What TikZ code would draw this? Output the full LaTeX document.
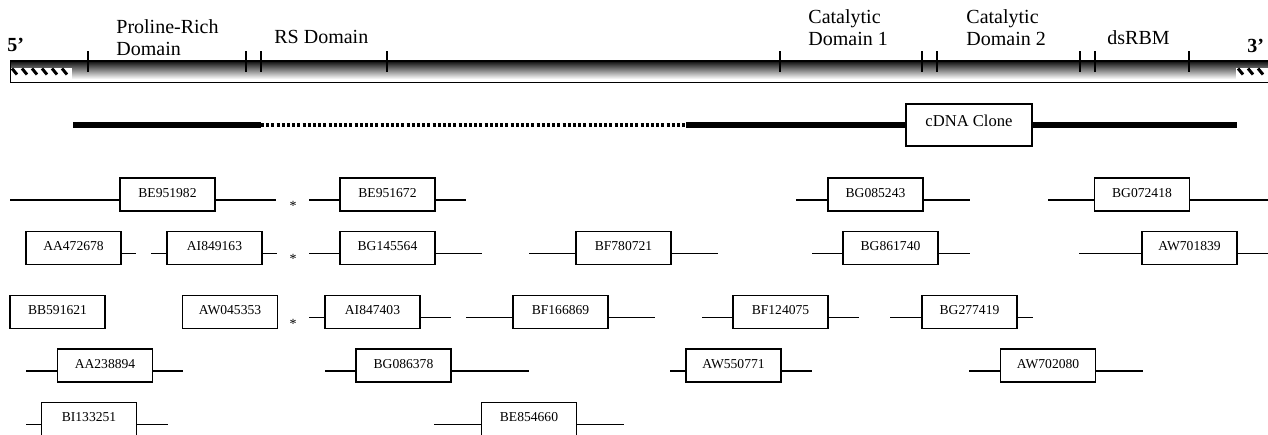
\documentclass[tikz,border=0pt]{standalone}
\usepackage{fontspec}
\setmainfont{Liberation Serif}
\newlength{\du}
\setlength{\du}{0.5pt}
\definecolor{barcolor}{rgb}{0.050000, 0.050000, 0.050000}
\definecolor{barmid}{rgb}{0.450000, 0.450000, 0.450000}
\definecolor{barlight}{rgb}{1.000000, 1.000000, 1.000000}

\begin{document}
\begin{tikzpicture}[yscale=-1,
  estbox/.style={draw, fill=white, line width=1.3\du, minimum width=95\du, minimum height=33\du,
    inner sep=0pt, text depth=2pt, font=\fontsize{6.8}{8}\selectfont},
  estline/.style={line width=1.2\du},
  cdnabox/.style={draw, fill=white, line width=1.3\du, minimum width=126\du, minimum height=42\du,
    inner sep=0pt, text depth=4pt, font=\fontsize{8.3}{10}\selectfont},
  cdnaline/.style={line width=6\du},
  cdnadots/.style={line width=3.5\du, dash pattern=on 3\du off 2.2\du},
  domtick/.style={line width=2.2\du},
  hatchline/.style={line width=3\du},
  domlabel/.style={anchor=north west, inner sep=0pt, align=left, font=\fontsize{10}{11.2}\selectfont},
  endlabel/.style={anchor=base west, inner sep=0pt, font=\fontsize{10}{12}\selectfont\bfseries},
  astnode/.style={inner sep=0pt, font=\fontsize{7}{8}\selectfont}]
\useasboundingbox (0,0) rectangle (1268\du,434\du);

% gene bar
\shade[top color=barcolor, middle color=barmid, bottom color=barlight] (10\du,61\du) rectangle (1268\du,79\du);
\fill[white] (10\du,79\du) rectangle (1268\du,82\du);
\draw[line width=1\du] (10\du,61\du) -- (10\du,82\du) -- (1268\du,82\du);
\draw[line width=2\du] (10\du,61\du) -- (1268\du,61\du);
\draw[line width=1\du] (88\du,60\du) -- (104\du,60\du);
\draw[line width=1\du] (780\du,60\du) -- (796\du,60\du);
\draw[line width=1\du] (937\du,60\du) -- (951\du,60\du);

% untranslated ends
\fill[white] (10.5\du,68\du) rectangle (72\du,81.5\du);
\draw[hatchline] (12\du,68.5\du) -- (17\du,74.5\du);
\draw[hatchline] (22\du,68.5\du) -- (27\du,74.5\du);
\draw[hatchline] (32\du,68.5\du) -- (37\du,74.5\du);
\draw[hatchline] (42\du,68.5\du) -- (47\du,74.5\du);
\draw[hatchline] (52\du,68.5\du) -- (57\du,74.5\du);
\draw[hatchline] (62\du,68.5\du) -- (67\du,74.5\du);
\fill[white] (1236\du,68\du) rectangle (1268\du,81.5\du);
\draw[hatchline] (1238\du,68.5\du) -- (1243\du,74.5\du);
\draw[hatchline] (1248\du,68.5\du) -- (1253\du,74.5\du);
\draw[hatchline] (1258\du,68.5\du) -- (1263\du,74.5\du);

% domain borders
\draw[domtick] (88\du,51\du) -- (88\du,72\du);
\draw[domtick] (246\du,51\du) -- (246\du,72\du);
\draw[domtick] (261\du,51\du) -- (261\du,72\du);
\draw[domtick] (387\du,51\du) -- (387\du,72\du);
\draw[domtick] (780\du,51\du) -- (780\du,72\du);
\draw[domtick] (922\du,51\du) -- (922\du,72\du);
\draw[domtick] (937\du,51\du) -- (937\du,72\du);
\draw[domtick] (1080\du,51\du) -- (1080\du,72\du);
\draw[domtick] (1095\du,51\du) -- (1095\du,72\du);
\draw[domtick] (1189\du,51\du) -- (1189\du,72\du);

\node[endlabel] (five) at (7\du,51.5\du) {5’};
\node[endlabel] (three) at (1247\du,52\du) {3’};
\node[domlabel] (proline) at (116\du,19\du) {Proline-Rich\\Domain};
\node[domlabel, anchor=base west] (rsdom) at (274\du,43.3\du) {RS Domain};
\node[domlabel] (cat1) at (808\du,9\du) {Catalytic\\Domain 1};
\node[domlabel] (cat2) at (966\du,9\du) {Catalytic\\Domain 2};
\node[domlabel, anchor=base west] (dsrbm) at (1107\du,44\du) {dsRBM};

% cDNA clone
\coordinate (cdnaA) at (73\du,125\du);
\coordinate (cdnaB) at (261\du,125\du);
\coordinate (cdnaC) at (686\du,125\du);
\coordinate (cdnaD) at (1237\du,125\du);
\draw[cdnaline] (cdnaA) -- (cdnaB);
\draw[cdnadots] (cdnaB) -- (cdnaC);
\draw[cdnaline] (cdnaC) -- (cdnaD);
\node[cdnabox] (cdna) at (969\du,125\du) {cDNA Clone};

% ESTs, row 1
\coordinate (BE951982w) at (10\du,200\du);
\coordinate (BE951982e) at (276\du,200\du);
\draw[estline] (BE951982w) -- (BE951982e);
\node[estbox] (BE951982) at (167.5\du,194.5\du) {BE951982};
\node[astnode] (ast1) at (293\du,206\du) {*};
\coordinate (BE951672w) at (309\du,200\du);
\coordinate (BE951672e) at (466\du,200\du);
\draw[estline] (BE951672w) -- (BE951672e);
\node[estbox] (BE951672) at (387.5\du,194.5\du) {BE951672};
\coordinate (BG085243w) at (796\du,200\du);
\coordinate (BG085243e) at (970\du,200\du);
\draw[estline] (BG085243w) -- (BG085243e);
\node[estbox] (BG085243) at (875.5\du,194.5\du) {BG085243};
\coordinate (BG072418w) at (1048\du,200\du);
\coordinate (BG072418e) at (1268\du,200\du);
\draw[estline] (BG072418w) -- (BG072418e);
\node[estbox] (BG072418) at (1142\du,194.5\du) {BG072418};

% row 2
\node[estbox] (AA472678) at (73.5\du,248\du) {AA472678};
\coordinate (AA472678e) at (136\du,253.5\du);
\draw[estline] (AA472678e -| AA472678.east) -- (AA472678e);
\coordinate (AI849163w) at (151\du,253.5\du);
\coordinate (AI849163e) at (277\du,253.5\du);
\draw[estline] (AI849163w) -- (AI849163e);
\node[estbox] (AI849163) at (214.5\du,248\du) {AI849163};
\node[astnode] (ast2) at (293\du,259\du) {*};
\coordinate (BG145564w) at (309\du,253.5\du);
\coordinate (BG145564e) at (482\du,253.5\du);
\draw[estline] (BG145564w) -- (BG145564e);
\node[estbox] (BG145564) at (387.5\du,248\du) {BG145564};
\coordinate (BF780721w) at (529\du,253.5\du);
\coordinate (BF780721e) at (718\du,253.5\du);
\draw[estline] (BF780721w) -- (BF780721e);
\node[estbox] (BF780721) at (623.5\du,248\du) {BF780721};
\coordinate (BG861740w) at (812\du,253.5\du);
\coordinate (BG861740e) at (970\du,253.5\du);
\draw[estline] (BG861740w) -- (BG861740e);
\node[estbox] (BG861740) at (890.5\du,248\du) {BG861740};
\coordinate (AW701839w) at (1079\du,253.5\du);
\coordinate (AW701839e) at (1268\du,253.5\du);
\draw[estline] (AW701839w) -- (AW701839e);
\node[estbox] (AW701839) at (1189.5\du,248\du) {AW701839};

% row 3
\node[estbox] (BB591621) at (57.5\du,312\du) {BB591621};
\node[estbox] (AW045353) at (230\du,312\du) {AW045353};
\node[astnode] (ast3) at (293\du,324\du) {*};
\coordinate (AI847403w) at (309\du,317.5\du);
\coordinate (AI847403e) at (451\du,317.5\du);
\draw[estline] (AI847403w) -- (AI847403e);
\node[estbox] (AI847403) at (372.5\du,312\du) {AI847403};
\coordinate (BF166869w) at (466\du,317.5\du);
\coordinate (BF166869e) at (655\du,317.5\du);
\draw[estline] (BF166869w) -- (BF166869e);
\node[estbox] (BF166869) at (560.5\du,312\du) {BF166869};
\coordinate (BF124075w) at (702\du,317.5\du);
\coordinate (BF124075e) at (859\du,317.5\du);
\draw[estline] (BF124075w) -- (BF124075e);
\node[estbox] (BF124075) at (780.5\du,312\du) {BF124075};
\coordinate (BG277419w) at (890\du,317.5\du);
\coordinate (BG277419e) at (1033\du,317.5\du);
\draw[estline] (BG277419w) -- (BG277419e);
\node[estbox] (BG277419) at (969.5\du,312\du) {BG277419};

% row 4
\coordinate (AA238894w) at (26\du,371\du);
\coordinate (AA238894e) at (183\du,371\du);
\draw[estline] (AA238894w) -- (AA238894e);
\node[estbox] (AA238894) at (105\du,365.5\du) {AA238894};
\coordinate (BG086378w) at (325\du,371\du);
\coordinate (BG086378e) at (529\du,371\du);
\draw[estline] (BG086378w) -- (BG086378e);
\node[estbox] (BG086378) at (403.5\du,365.5\du) {BG086378};
\coordinate (AW550771w) at (670\du,371\du);
\coordinate (AW550771e) at (812\du,371\du);
\draw[estline] (AW550771w) -- (AW550771e);
\node[estbox] (AW550771) at (733.5\du,365.5\du) {AW550771};
\coordinate (AW702080w) at (969\du,371\du);
\coordinate (AW702080e) at (1143\du,371\du);
\draw[estline] (AW702080w) -- (AW702080e);
\node[estbox] (AW702080) at (1048\du,365.5\du) {AW702080};

% row 5
\coordinate (BI133251w) at (26\du,424.5\du);
\coordinate (BI133251e) at (168\du,424.5\du);
\draw[estline] (BI133251w) -- (BI133251e);
\node[estbox] (BI133251) at (89\du,419\du) {BI133251};
\coordinate (BE854660w) at (434\du,424.5\du);
\coordinate (BE854660e) at (624\du,424.5\du);
\draw[estline] (BE854660w) -- (BE854660e);
\node[estbox] (BE854660) at (529\du,419\du) {BE854660};
\end{tikzpicture}
\end{document}
